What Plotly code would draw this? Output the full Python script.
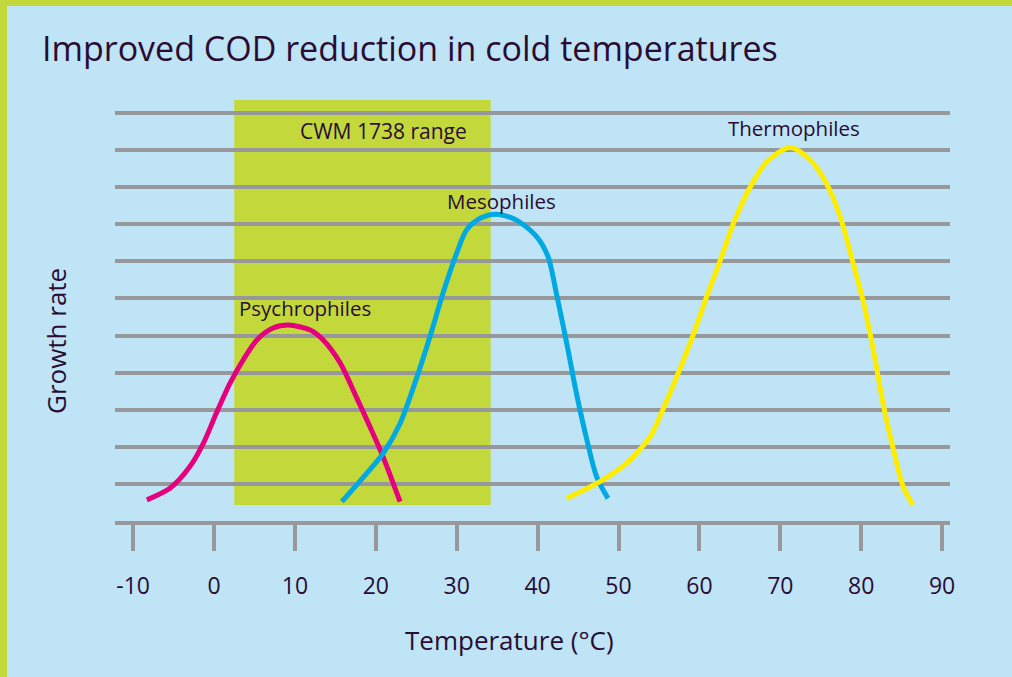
import plotly.graph_objects as go

# ---------------- data ----------------
psychro_t = [-8.3, -5.4, -3.0, -1.3, 0.3, 2.0, 3.6, 5.3, 7.3, 9.2, 11.9, 13.5, 15.6, 17.6, 19.3, 20.9, 23.0]
psychro_g = [0.57, 0.89, 1.46, 2.10, 2.91, 3.72, 4.34, 4.88, 5.20, 5.28, 5.15, 4.88, 4.26, 3.34, 2.53, 1.73, 0.52]

meso_t = [15.8, 18.5, 20.9, 23.0, 25.1, 26.7, 28.3, 30.0, 31.2, 32.9, 34.9, 37.4, 39.9, 41.3, 42.4, 43.6, 44.8, 46.1, 47.3, 48.7]
meso_g = [0.52, 1.19, 1.82, 2.63, 3.89, 4.97, 6.14, 7.22, 7.84, 8.16, 8.27, 8.11, 7.66, 7.12, 6.05, 4.79, 3.44, 2.18, 1.19, 0.61]

thermo_t = [43.6, 47.7, 51.0, 53.9, 55.1, 57.2, 59.3, 60.9, 62.6, 64.2, 66.3, 68.3, 71.2, 73.7, 75.7, 77.4, 79.0, 80.3, 81.5, 82.7, 84.0, 85.2, 86.4]
thermo_g = [0.61, 1.06, 1.56, 2.27, 2.81, 3.89, 5.06, 6.05, 7.04, 8.02, 9.01, 9.68, 10.07, 9.73, 9.10, 8.20, 6.95, 5.87, 4.61, 3.17, 1.91, 0.92, 0.43]

cwm_range_t = [2.5, 34.2]
cwm_range_g = [0.43, 11.35]

x_ticks = [-10, 0, 10, 20, 30, 40, 50, 60, 70, 80, 90]
grid_levels = list(range(0, 12))

series_labels = ["Psychrophiles", "Mesophiles", "Thermophiles"]
label_pos_t = [11.3, 35.5, 71.7]
label_pos_g = [5.74, 8.63, 10.59]

# ---------------- style ----------------
BG = "#bee4f6"
LIME = "#c2d83b"
GRID = "#97989c"
TXT = "#2a0c33"
FONT = "Open Sans"
COLORS = ["#e6007e", "#00a9e2", "#ffed00"]

W, H = 1012, 677
L, R, T, B = 115, 62, 90, 156
pw = W - L - R
ph = H - T - B


def px_x(px):
    return (px - L) / pw


def px_y(py):
    return (H - B - py) / ph


fig = go.Figure()

for name, xs, ys, c in zip(series_labels,
                           [psychro_t, meso_t, thermo_t],
                           [psychro_g, meso_g, thermo_g], COLORS):
    fig.add_trace(go.Scatter(x=xs, y=ys, mode="lines", name=name,
                             line=dict(color=c, width=5, shape="spline", smoothing=0.8),
                             hoverinfo="skip", showlegend=False))

# CWM range box (below grid lines)
fig.add_shape(type="rect", xref="x", yref="y",
              x0=cwm_range_t[0], x1=cwm_range_t[1], y0=cwm_range_g[0], y1=cwm_range_g[1],
              fillcolor=LIME, line=dict(width=0), layer="below")

# green border (left and top)
fig.add_shape(type="rect", xref="paper", yref="paper",
              x0=px_x(0), x1=px_x(7), y0=px_y(H), y1=px_y(0),
              fillcolor=LIME, line=dict(width=0), layer="above")
fig.add_shape(type="rect", xref="paper", yref="paper",
              x0=px_x(0), x1=px_x(W), y0=px_y(6), y1=px_y(0),
              fillcolor=LIME, line=dict(width=0), layer="above")

annots = []
annots.append(dict(text="CWM 1738 range", x=20.9, y=10.51, xref="x", yref="y",
                   showarrow=False, font=dict(size=21, color=TXT, family=FONT)))
for lab, lx, ly in zip(series_labels, label_pos_t, label_pos_g):
    annots.append(dict(text=lab, x=lx, y=ly, xref="x", yref="y", showarrow=False,
                       font=dict(size=20.5, color=TXT, family=FONT)))
annots.append(dict(text="Growth rate", x=px_x(56), y=px_y(341),
                   xref="paper", yref="paper", showarrow=False, textangle=-90,
                   xanchor="center", yanchor="middle",
                   font=dict(size=26, color=TXT, family=FONT)))
annots.append(dict(text="Temperature (°C)", x=px_x(509), y=px_y(640),
                   xref="paper", yref="paper", showarrow=False,
                   xanchor="center", yanchor="middle",
                   font=dict(size=26, color=TXT, family=FONT)))

x0px = 214.0
px_per_deg = 8.09
xr = [(L - x0px) / px_per_deg, (W - R - x0px) / px_per_deg]
yr = [0, (521 - T) / 37.1]

fig.update_layout(
    width=W, height=H,
    margin=dict(l=L, r=R, t=T, b=B, pad=0),
    paper_bgcolor=BG, plot_bgcolor=BG,
    font=dict(family=FONT, color=TXT),
    title=dict(text="Improved COD reduction in cold temperatures",
               x=42 / W, xanchor="left", xref="container",
               y=1 - 49 / H, yanchor="middle", yref="container",
               font=dict(size=34, color=TXT, family=FONT)),
    annotations=annots,
    xaxis=dict(range=xr, tickmode="array", tickvals=x_ticks, ticktext=[str(v) for v in x_ticks],
               showgrid=False, zeroline=False, showline=True, linecolor=GRID, linewidth=4,
               ticks="outside", ticklen=26, tickwidth=4, tickcolor=GRID,
               tickfont=dict(size=23, color=TXT, family=FONT), ticklabelstandoff=15,
               fixedrange=True),
    yaxis=dict(range=yr, tickmode="array", tickvals=grid_levels, showticklabels=False,
               showgrid=True, gridcolor=GRID, gridwidth=4, zeroline=False, showline=False,
               ticks="", fixedrange=True),
    showlegend=False,
)

fig.write_html("out.html", config={"displayModeBar": False},
               post_script="document.body.style.margin='0';document.body.style.overflow='hidden';")
